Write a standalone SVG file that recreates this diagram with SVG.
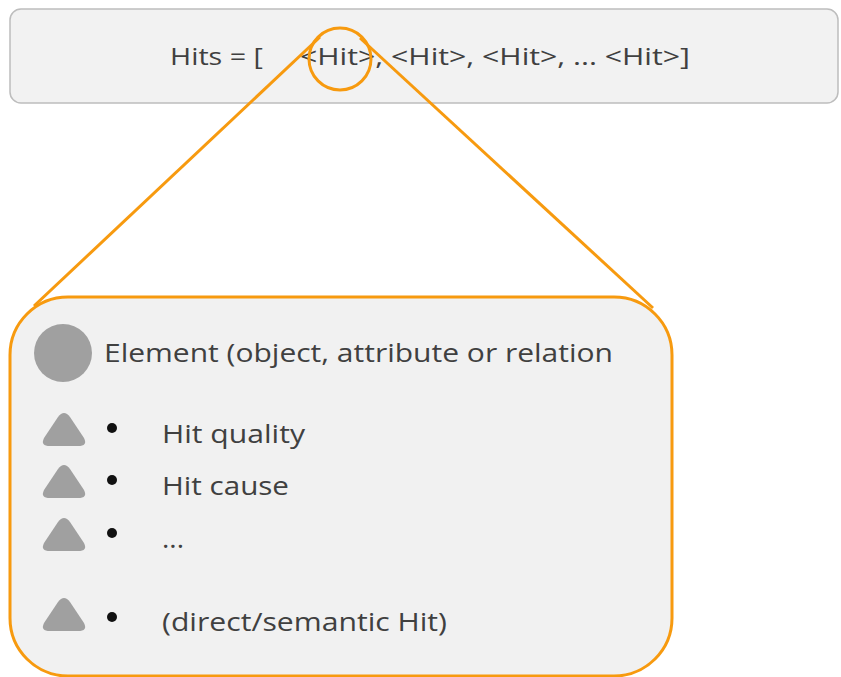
<svg xmlns="http://www.w3.org/2000/svg" width="841" height="677" viewBox="0 0 841 677">
<style>
.t{font-family:"Open Sans","Noto Sans","DejaVu Sans",sans-serif;fill:#404040}
.sym{fill:#a0a0a0}
.dot{fill:#111}
</style>
<defs>
<path id="tri" d="M-6,-17 Q0,-25 6,-17 L20,4 Q24,12 14,12 L-14,12 Q-24,12 -20,4 Z"/>
</defs>
<rect width="841" height="677" fill="#fff"/>
<g id="hits">
<rect x="10" y="9" width="828" height="94" rx="11" fill="#f2f2f2" stroke="#bdbdbd" stroke-width="1.5"/>
<text class="t" x="170" y="65" font-size="23" textLength="93" lengthAdjust="spacingAndGlyphs">Hits = [</text>
<text class="t" x="300" y="65" font-size="23" textLength="390" lengthAdjust="spacingAndGlyphs">&lt;Hit&gt;, &lt;Hit&gt;, &lt;Hit&gt;, ... &lt;Hit&gt;]</text>
</g>
<g id="hit-detail">
<rect x="10" y="297" width="662" height="379" rx="58" fill="#f1f1f1" stroke="#f79a0f" stroke-width="3"/>
<circle class="sym" cx="63" cy="353" r="29"/>
<text class="t" x="104" y="362" font-size="25" textLength="509" lengthAdjust="spacingAndGlyphs">Element (object, attribute or relation</text>
<use href="#tri" class="sym" x="64" y="434"/>
<use href="#tri" class="sym" x="64" y="486"/>
<use href="#tri" class="sym" x="64" y="539"/>
<use href="#tri" class="sym" x="64" y="619"/>
<circle class="dot" cx="112" cy="428" r="5"/>
<circle class="dot" cx="112" cy="480" r="5"/>
<circle class="dot" cx="112" cy="533" r="5"/>
<circle class="dot" cx="112" cy="617" r="5"/>
<text class="t" x="162" y="443" font-size="25" textLength="143" lengthAdjust="spacingAndGlyphs">Hit quality</text>
<text class="t" x="162" y="495" font-size="25" textLength="127" lengthAdjust="spacingAndGlyphs">Hit cause</text>
<text class="t" x="162" y="548" font-size="25" textLength="22" lengthAdjust="spacingAndGlyphs">...</text>
<text class="t" x="162" y="631" font-size="25" textLength="285" lengthAdjust="spacingAndGlyphs">(direct/semantic Hit)</text>
</g>
<g id="connectors" fill="none" stroke="#f79a0f" stroke-width="3">
<circle cx="340" cy="59" r="31"/>
<path d="M320,37 L34,306"/>
<path d="M360,38 L653,308"/>
</g>
</svg>
